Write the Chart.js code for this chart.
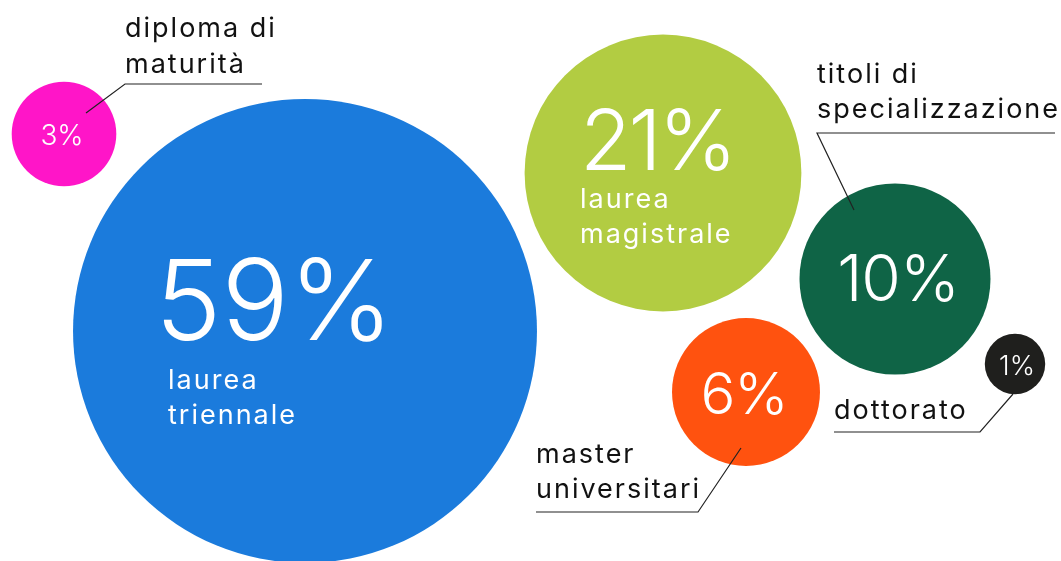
<!DOCTYPE html>
<html>
<head>
<meta charset="utf-8">
<script src="https://cdn.jsdelivr.net/npm/chart.js@4/dist/chart.umd.min.js"></script>
<style>
  html, body { margin: 0; padding: 0; background: #fff; }
  canvas { display: block; }
</style>
</head>
<body>
<canvas id="bubbles" width="1061" height="561"></canvas>
<script>
// dati: percentuali per titolo di studio
var categories = ['laurea triennale', 'laurea magistrale', 'titoli di specializzazione', 'master universitari', 'diploma di maturità', 'dottorato'];
var values = [59, 21, 10, 6, 3, 1];
var colors = ['#1b7bdc', '#b2cc42', '#0f6446', '#ff520f', '#ff15c8', '#1f1f1d'];
// posizione dei centri (unità della scala, 0..1061 x 0..561)
var posX = [305, 663, 895, 746, 64, 1015];
var posY = [331, 173, 279, 392, 134, 364];

var FONT = 'Inter, "Noto Sans", sans-serif';

// testo e linee di richiamo
var labelsPlugin = {
  id: 'labels',
  afterDatasetsDraw: function(chart) {
    var c = chart.ctx;
    var sx = chart.scales.x, sy = chart.scales.y;
    function X(v) { return sx.getPixelForValue(v); }
    function Y(v) { return sy.getPixelForValue(v); }

    c.save();
    c.textBaseline = 'alphabetic';

    // numeri dentro le bolle
    c.fillStyle = '#fff';
    c.textAlign = 'left';
    c.letterSpacing = '0px';
    c.font = '300 112px ' + FONT;
    c.fillText(values[0] + '%', X(155), Y(340));
    c.letterSpacing = '-3px';
    c.font = '300 84px ' + FONT;
    c.fillText(values[1] + '%', X(580), Y(170));

    c.letterSpacing = '2px';
    c.font = '400 27px ' + FONT;
    c.fillText('laurea', X(168), Y(389));
    c.fillText('triennale', X(168), Y(424));
    c.fillText('laurea', X(580), Y(208));
    c.fillText('magistrale', X(580), Y(243));

    c.textAlign = 'center';
    c.letterSpacing = '-1px';
    c.font = '300 64px ' + FONT;
    c.fillText(values[2] + '%', X(898), Y(301));
    c.font = '300 58px ' + FONT;
    c.fillText(values[3] + '%', X(744), Y(414));
    c.letterSpacing = '0px';
    c.font = '300 28px ' + FONT;
    c.fillText(values[4] + '%', X(62), Y(145));
    c.font = '300 27px ' + FONT;
    c.fillText(values[5] + '%', X(1017), Y(375));

    // etichette esterne
    c.fillStyle = '#111';
    c.textAlign = 'left';
    c.letterSpacing = '2px';
    c.font = '400 27px ' + FONT;
    c.fillText('diploma di', X(125), Y(37));
    c.fillText('maturità', X(125), Y(73));
    c.fillText('titoli di', X(817), Y(83));
    c.fillText('specializzazione', X(817), Y(118));
    c.fillText('dottorato', X(834), Y(419));
    c.fillText('master', X(536), Y(463));
    c.fillText('universitari', X(536), Y(498));
    c.letterSpacing = '0px';

    c.strokeStyle = '#222';
    c.lineWidth = 1.2;
    function leader(pts) {
      c.beginPath();
      c.moveTo(X(pts[0][0]), Y(pts[0][1]));
      for (var i = 1; i < pts.length; i++) c.lineTo(X(pts[i][0]), Y(pts[i][1]));
      c.stroke();
    }
    leader([[262, 84], [125, 84], [86, 113]]);
    leader([[1055, 133], [817, 133], [854, 210]]);
    leader([[834, 432], [980, 432], [1013, 394]]);
    leader([[536, 512], [698, 512], [741, 448]]);
    c.restore();
  }
};

var ctx = document.getElementById('bubbles');
var chart = new Chart(ctx, {
  type: 'bubble',
  data: {
    labels: categories,
    datasets: [{
      data: values.map(function(v, i) { return { x: posX[i], y: posY[i], v: v }; }),
      backgroundColor: colors,
      borderWidth: 0,
      clip: false,
      // area proporzionale alla percentuale
      radius: function(context) {
        var d = context.raw;
        return d ? 30.2 * Math.sqrt(d.v) : 0;
      },
      hoverRadius: 0
    }]
  },
  options: {
    responsive: false,
    animation: false,
    events: [],
    layout: { padding: 0, autoPadding: false },
    plugins: { legend: { display: false }, tooltip: { enabled: false } },
    scales: {
      x: { display: false, min: 0, max: 1061 },
      y: { display: false, min: 0, max: 561, reverse: true }
    }
  },
  plugins: [labelsPlugin]
});
</script>
</body>
</html>
